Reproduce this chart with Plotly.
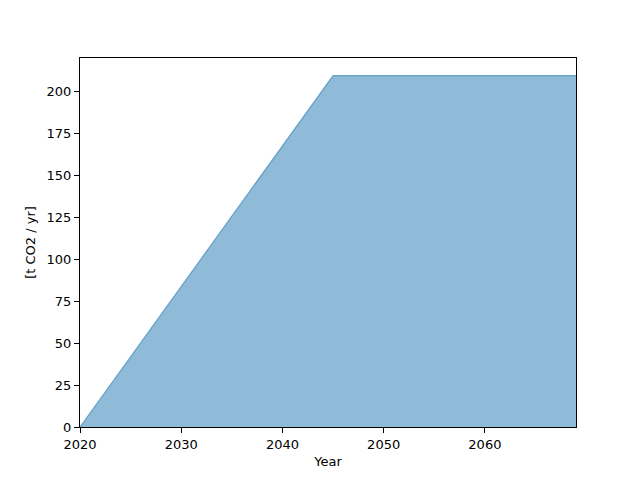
import plotly.graph_objects as go

# key points of the emission path (linear ramp, then plateau)
years = [2020, 2045, 2069]
removal = [0, 209.5, 209.5]

x_ticks = [2020, 2030, 2040, 2050, 2060]
y_ticks = [0, 25, 50, 75, 100, 125, 150, 175, 200]

fig = go.Figure()
fig.add_trace(go.Scatter(x=years, y=removal, mode='lines', fill='tozeroy',
                         fillcolor='rgba(31,119,180,0.5)',
                         line=dict(color='rgba(31,119,180,0.55)', width=1.2),
                         showlegend=False))

axis_style = dict(showline=True, linecolor='black', linewidth=1, mirror=True,
                  ticks='outside', ticklen=5, tickcolor='black', showgrid=False,
                  zeroline=False, tickfont=dict(size=13, color='black'))

fig.update_xaxes(range=[2020, 2069], tickvals=x_ticks,
                 title=dict(text='Year', font=dict(size=13, color='black'), standoff=6),
                 **axis_style)
fig.update_yaxes(range=[0, 219.98], tickvals=y_ticks,
                 title=dict(text='[t CO2 / yr]', font=dict(size=13, color='black'), standoff=8),
                 **axis_style)

# page body adds an 8px offset, margins compensate for it
fig.update_layout(width=640, height=480, margin=dict(l=72, r=72, t=50, b=61),
                  plot_bgcolor='white', paper_bgcolor='white',
                  font=dict(family='DejaVu Sans', color='black'))

fig.write_html("out.html")
